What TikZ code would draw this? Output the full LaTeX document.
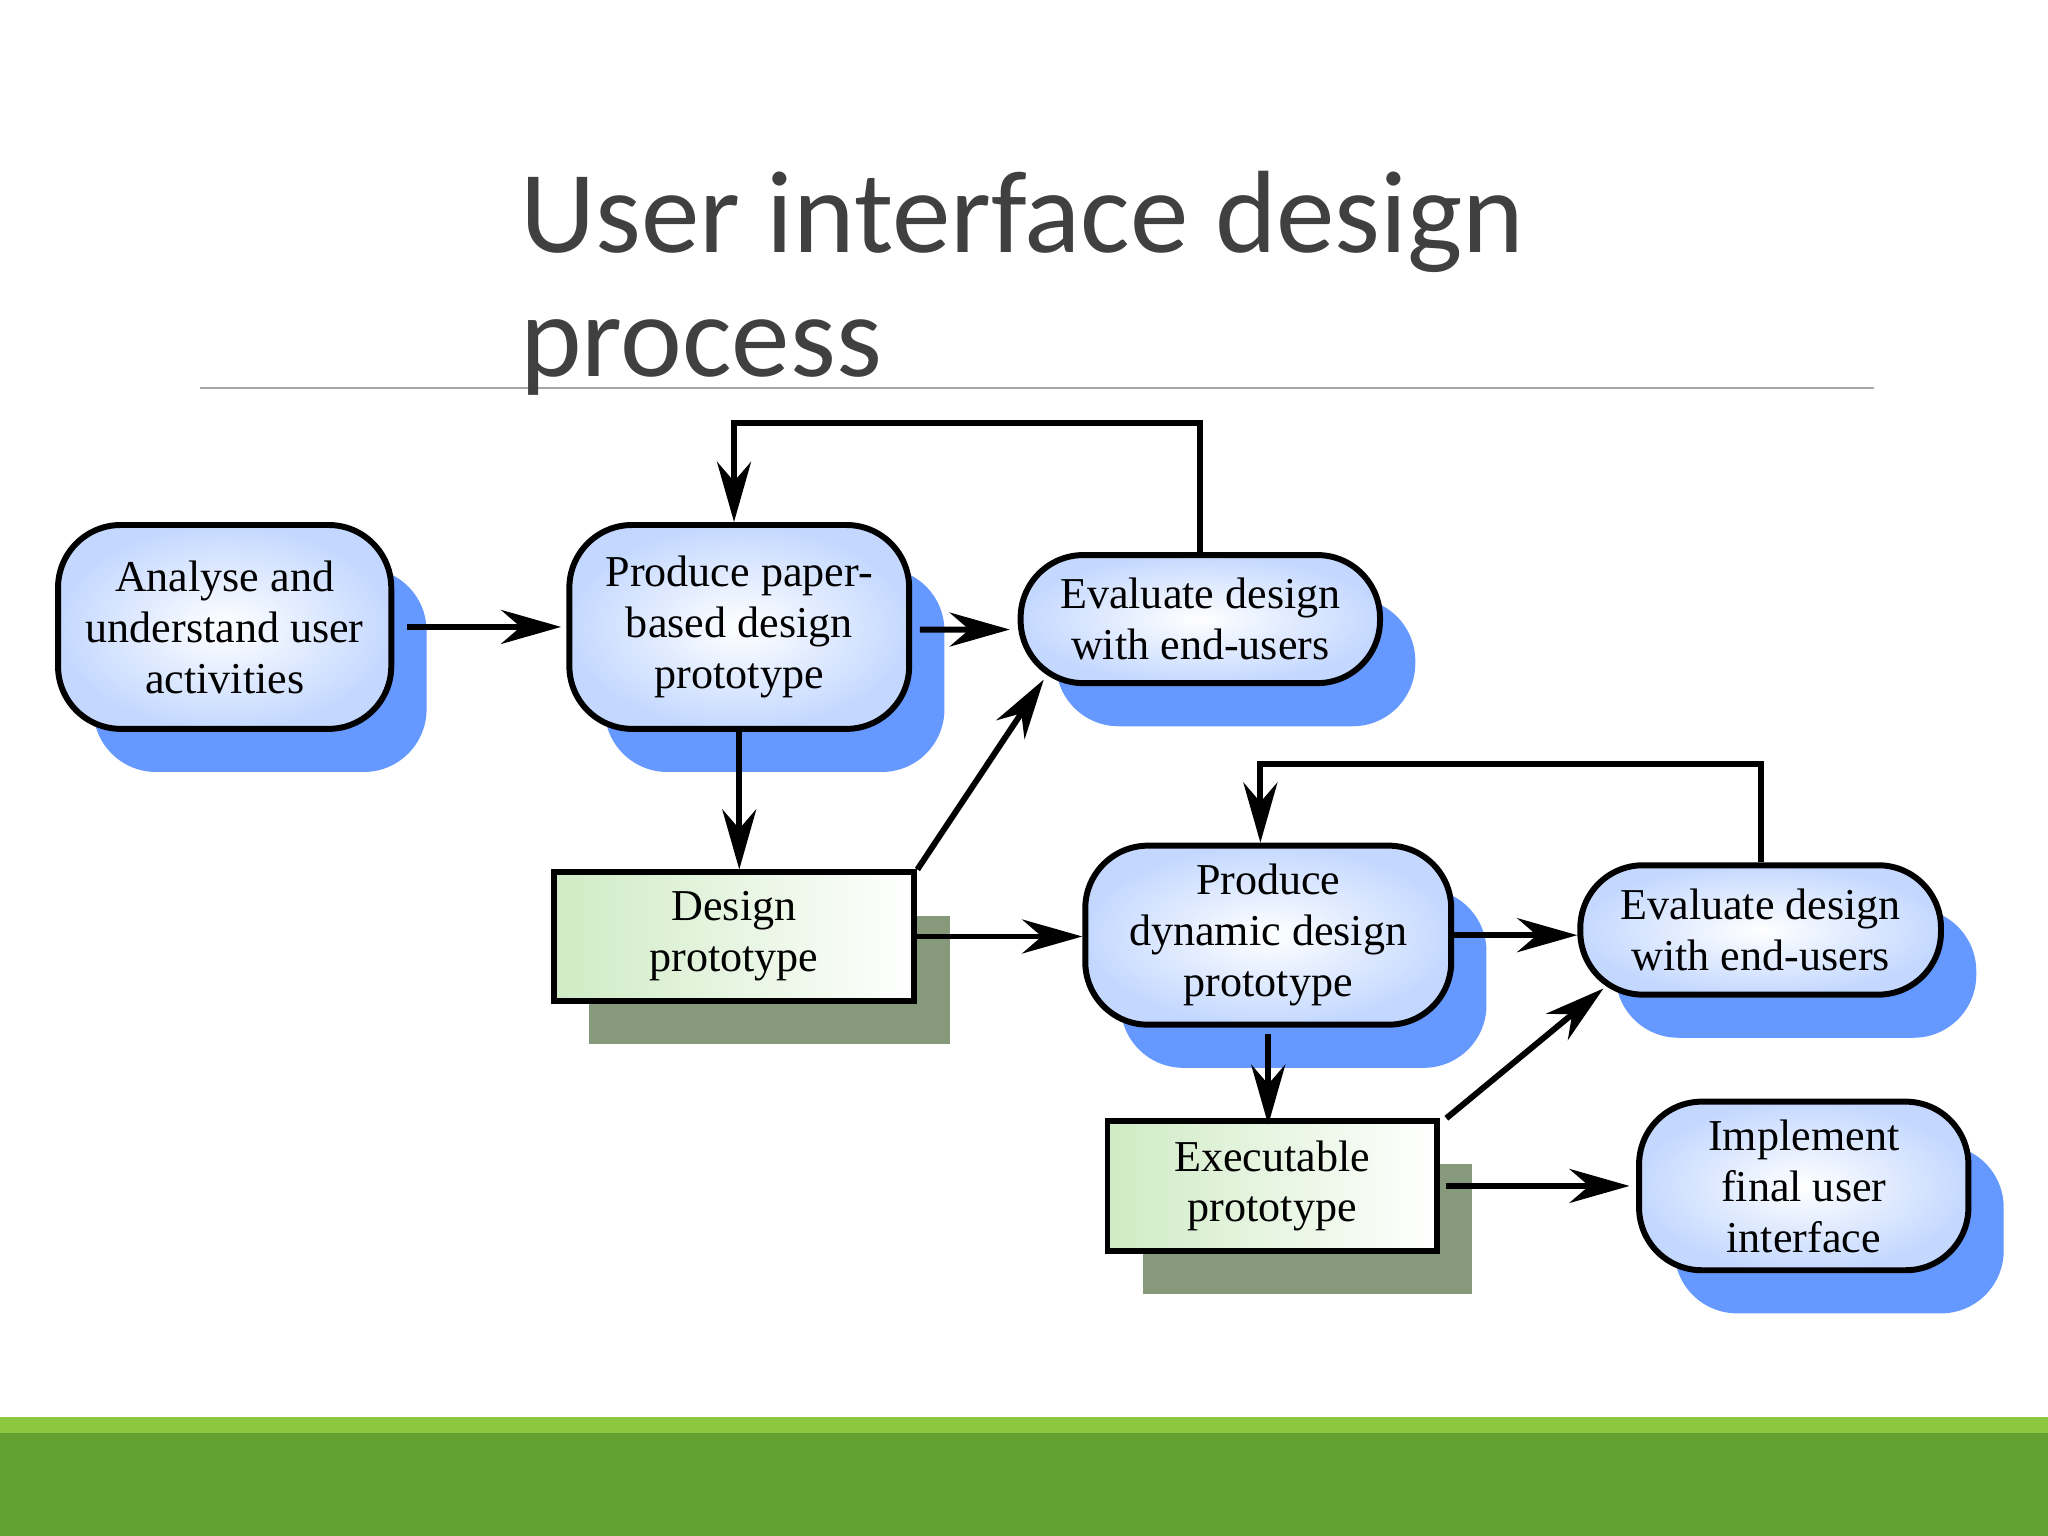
\documentclass[tikz,border=0pt]{standalone}
\usepackage{fontspec}
\setmainfont{Liberation Serif}
\newfontfamily\titlefont{Carlito}
\usetikzlibrary{arrows.meta,shadows}
\definecolor{shadowblue}{HTML}{6699FF}
\definecolor{shadowgreen}{HTML}{86997A}
\definecolor{fillblue}{HTML}{C4D8FF}
\definecolor{fillgreen}{HTML}{CFEBC4}
\definecolor{barlight}{HTML}{8DC63F}
\definecolor{bardark}{HTML}{63A132}
\begin{document}
\begin{tikzpicture}[x=0.01cm,y=-0.01cm,>={Stealth[length=4.6mm,width=2.6mm]},line width=1.3pt]
    \tikzstyle{activity}=[draw,rounded corners=0.48cm,inner color=white,outer color=fillblue,
      align=center,font=\fontsize{9.6}{11.1}\selectfont,inner sep=2pt,
      drop shadow={shadow xshift=0.27cm,shadow yshift=-0.33cm,fill=shadowblue,opacity=1}]
    \tikzstyle{result}=[draw,left color=fillgreen,right color=white,
      align=center,font=\fontsize{9.6}{11.1}\selectfont,inner sep=2pt,
      drop shadow={shadow xshift=0.27cm,shadow yshift=-0.33cm,fill=shadowgreen,opacity=1}]
    \tikzstyle{flow}=[->]

    % page, title and footer bar
    \useasboundingbox (0,0) rectangle (1568,1176);
    \fill[barlight] (0,1085) rectangle (1568,1097);
    \fill[bardark] (0,1097) rectangle (1568,1176);
    \draw[gray!70,line width=0.6pt] (153,297) -- (1435,297);
    \node[anchor=north west,align=left,text=black!75,inner sep=0pt,
      font=\titlefont\fontsize{25.5}{27}\selectfont] (title) at (396,129)
      {User interface design\\process};

    % activities
    \node[activity,minimum width=2.55cm,minimum height=1.56cm] (A) at (172,480) {Analyse and\\understand user\\activities};
    \node[activity,minimum width=2.6cm,minimum height=1.56cm] (P) at (566,480) {Produce paper-\\based design\\prototype};
    \node[activity,minimum width=2.75cm,minimum height=0.98cm] (E1) at (919,474) {Evaluate design\\with end-users};
    \node[activity,minimum width=2.8cm,minimum height=1.37cm] (P2) at (971,716) {Produce\\dynamic design\\prototype};
    \node[activity,minimum width=2.76cm,minimum height=0.99cm] (E2) at (1348,712) {Evaluate design\\with end-users};
    \node[activity,minimum width=2.52cm,minimum height=1.29cm] (I) at (1381,908) {Implement\\final user\\interface};

    % prototypes
    \node[result,minimum width=2.76cm,minimum height=0.98cm] (D) at (562,717) {Design\\prototype};
    \node[result,minimum width=2.52cm,minimum height=0.99cm] (X) at (974,908) {Executable\\prototype};

    % connections
    \draw[flow] ([xshift=0.1cm]A.east) -- ([xshift=-0.04cm]P.west);
    \draw[flow] ([xshift=0.06cm,yshift=-0.02cm]P.east) -- ([xshift=-0.06cm,yshift=-0.08cm]E1.west);
    \draw[flow] (P.south) -- (P.south |- D.north);
    \draw[flow] (D.north east) -- ([xshift=0.2cm,yshift=0.05cm]E1.south west);
    \draw[flow] (D.east) -- (D.east -| P2.west);
    \draw[flow] (E1.north) -- ++(0,-99) -| ([xshift=-0.04cm]P.north);
    \draw[flow] (P2.east) -- (P2.east -| E2.west);
    \draw[flow] ([yshift=-0.05cm]P2.south) -- ([yshift=-0.05cm]P2.south |- X.north);
    \draw[flow] ([xshift=0.05cm]X.north east) -- ([xshift=0.2cm,yshift=0.07cm]E2.south west);
    \draw[flow] ([xshift=0.05cm]X.east) -- ([xshift=-0.05cm]X.east -| I.west);
    \draw[flow] (E2.north) -- ++(0,-75) -| ([xshift=-0.06cm]P2.north);
\end{tikzpicture}
\end{document}
